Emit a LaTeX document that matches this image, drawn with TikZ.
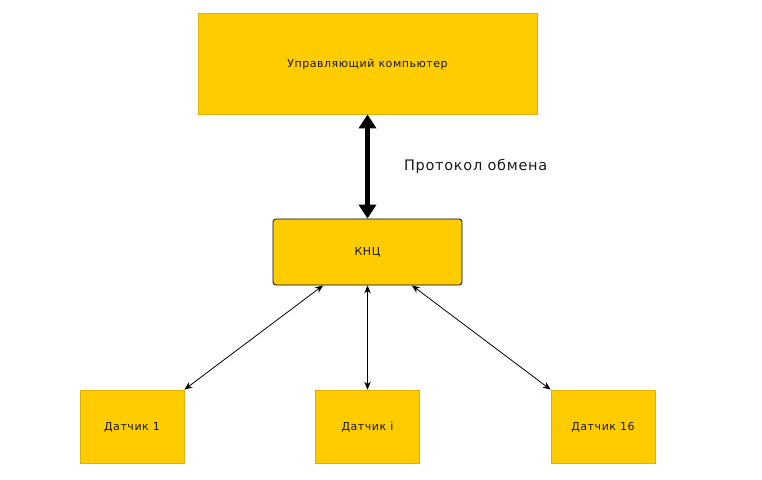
\documentclass[tikz,border=0pt]{standalone}
\usepackage{fontspec}
\setmainfont{DejaVu Sans}
\newfontfamily\boxfont[LetterSpace=5]{DejaVu Sans}
\usetikzlibrary{arrows.meta,positioning}
\definecolor{Gold}{RGB}{255,204,0}
\definecolor{GoldEdge}{RGB}{222,178,0}

\begin{document}
\begin{tikzpicture} [x=1pt, y=-1pt,
       >={Stealth[length=8pt,width=6.5pt]}, line width=0.8pt,
       every node/.style={font=\boxfont\fontsize{11}{13}\selectfont, text=black!90,
                          text height=1em, text depth=0.24em},
       yblock/.style 2 args = {rectangle, minimum width=#1, minimum height=#2,
                               inner sep=0pt, fill=Gold, draw=GoldEdge}]
	\useasboundingbox (0,0) rectangle (762,479);

	%% Host computer and the KNC unit
	\node [yblock={339pt}{101pt}] (host) at (367.5,63.5) {Управляющий компьютер};
	\node [yblock={189pt}{66pt}, draw=black, rounded corners=3pt] (knc) at (367.5,252) {КНЦ};

	%% Sensors in a row
	\foreach [count=\i] \x/\t in {132/1,367.5/i,603/16}
		{\node [yblock={104pt}{73pt}] (sensor\i) at (\x,426.5) {Датчик \t};}

	%% Exchange protocol link
	\draw[{Triangle[length=14pt,width=17pt]}-{Triangle[length=14pt,width=17pt]},
	      line width=5pt] (host.south) -- (knc.north)
	      node[midway,right=34pt,inner sep=0pt,
	           font=\boxfont\fontsize{14.5}{17}\selectfont] (proto) {Протокол обмена};

	%% Links to the sensors
	\draw[<->] (knc) -- (sensor1.north east);
	\draw[<->] (knc) -- (sensor2.north);
	\draw[<->] (knc) -- (sensor3.north west);
\end{tikzpicture}
\end{document}
